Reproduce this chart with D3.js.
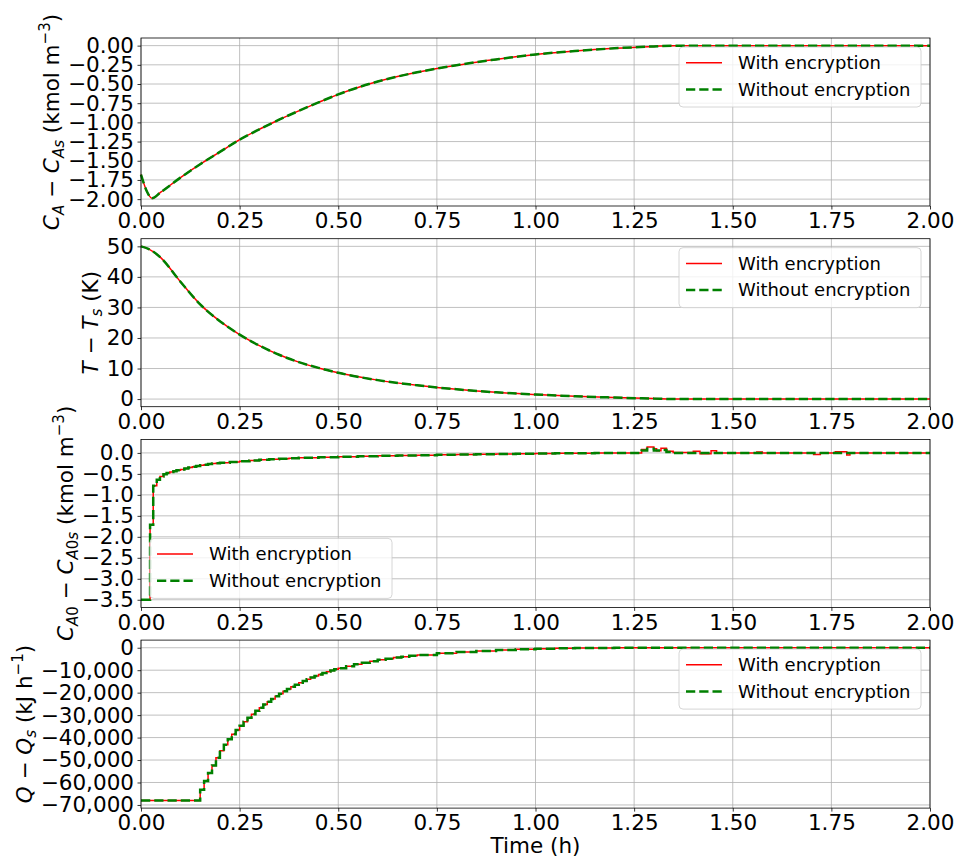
<!DOCTYPE html>
<html>
<head>
<meta charset="utf-8">
<script src="https://cdn.jsdelivr.net/npm/d3@7"></script>
<style>
  body { margin: 0; background: #fff; }
  svg { display: block; font-family: "DejaVu Sans", sans-serif; }
</style>
</head>
<body>
<svg id="chart" width="958" height="859"></svg>
<script>
/***************************************************************
 * DATA
 ***************************************************************/
const seriesNames = ["With encryption", "Without encryption"];
const timeTicks = [0, 0.25, 0.5, 0.75, 1, 1.25, 1.5, 1.75, 2];

// panel 1: C_A - C_As
const caTime = [0, 0.015, 0.028, 0.05, 0.1, 0.15, 0.2, 0.25, 0.3, 0.35, 0.4, 0.45, 0.5, 0.55, 0.6, 0.65, 0.7, 0.75, 0.8, 0.85, 0.9, 0.95, 1.0, 1.1, 1.2, 1.3, 1.35, 2.0];
const caDev = [-1.68, -1.9, -1.99, -1.91, -1.72, -1.545, -1.385, -1.225, -1.09, -0.965, -0.85, -0.74, -0.635, -0.545, -0.468, -0.403, -0.347, -0.298, -0.255, -0.215, -0.18, -0.146, -0.115, -0.07, -0.035, -0.01, 0, 0];
const caTicks = [-2, -1.75, -1.5, -1.25, -1, -0.75, -0.5, -0.25, 0];

// panel 2: T - Ts
const tempTime = [0, 0.02, 0.05, 0.1, 0.15, 0.2, 0.25, 0.3, 0.35, 0.4, 0.45, 0.5, 0.6, 0.7, 0.75, 0.8, 0.9, 1.0, 1.1, 1.2, 1.3, 1.35, 2.0];
const tempDev = [50, 49.1, 46.3, 38.4, 31.0, 25.5, 21.1, 17.5, 14.5, 12.1, 10.2, 8.6, 6.2, 4.5, 3.8, 3.2, 2.2, 1.5, 0.9, 0.5, 0.15, 0, 0];
const tempTicks = [0, 10, 20, 30, 40, 50];

// panel 3: C_A0 - C_A0s (sampled input, drawn as steps)
const feedTime = [0, 0.023, 0.031, 0.040, 0.048, 0.057, 0.065, 0.073, 0.082, 0.090, 0.10, 0.11, 0.12, 0.13, 0.14, 0.15, 0.16, 0.17, 0.18, 0.19, 0.20, 0.225, 0.25, 0.275, 0.30, 0.325, 0.35, 0.375, 0.40, 0.45, 0.50, 0.55, 0.60, 0.65, 0.70, 0.75, 0.80, 0.85, 0.90, 0.95, 1.00, 1.05, 1.10, 1.15, 1.20];
const feedDev = [-3.5, -1.71, -0.78, -0.64, -0.56, -0.51, -0.48, -0.455, -0.435, -0.415, -0.395, -0.372, -0.35, -0.33, -0.31, -0.295, -0.28, -0.267, -0.255, -0.245, -0.235, -0.217, -0.2, -0.182, -0.165, -0.152, -0.14, -0.127, -0.115, -0.102, -0.09, -0.08, -0.07, -0.062, -0.053, -0.045, -0.038, -0.031, -0.025, -0.02, -0.015, -0.011, -0.008, -0.004, 0];
const feedTailTimeWith = [1.269, 1.283, 1.300, 1.307, 1.318, 1.332, 1.349, 1.400, 1.417, 1.434, 1.445, 1.459, 1.561, 1.575, 1.705, 1.722, 1.760, 1.789, 1.797, 2.0];
const feedTailWith = [0.08, 0.14, 0.10, 0.05, 0.11, 0.04, 0.01, 0.04, -0.02, -0.02, 0.05, 0, 0.02, 0, -0.04, 0, 0.03, -0.05, 0, 0];
const feedTailTimeWithout = [1.269, 1.283, 1.300, 1.318, 1.332, 1.349, 2.0];
const feedTailWithout = [0.06, 0.10, 0.06, 0.07, 0.02, 0, 0];
const feedTicks = [-3.5, -3, -2.5, -2, -1.5, -1, -0.5, 0];

// panel 4: Q - Qs (sampled input, drawn as steps)
const heatTime = [0,
  0.15, 0.16, 0.17, 0.18, 0.19, 0.20, 0.21, 0.22, 0.23, 0.24, 0.25, 0.26, 0.27, 0.28, 0.29, 0.30, 0.31, 0.32,
  0.33, 0.34, 0.35, 0.36, 0.37, 0.38, 0.39, 0.40, 0.41, 0.42, 0.43, 0.44, 0.45, 0.46, 0.47, 0.48, 0.49, 0.50,
  0.52, 0.54, 0.56, 0.58, 0.60, 0.62, 0.64, 0.66, 0.68, 0.70,
  0.75, 0.80, 0.85, 0.90, 0.95, 1.00, 1.05, 1.10, 1.20, 1.30, 2.0];
const heatDev = [-68000,
  -63200, -59300, -55800, -52400, -49000, -45900, -43200, -40700, -38500, -36600, -34700, -32900, -31200, -29600, -28100, -26700, -25300, -24000,
  -22800, -21600, -20500, -19400, -18400, -17400, -16500, -15600, -14800, -14000, -13300, -12600, -11900, -11300, -10700, -10100, -9600, -9100,
  -8200, -7400, -6700, -6000, -5400, -4900, -4400, -4000, -3600, -3200,
  -2500, -1900, -1400, -1000, -700, -450, -280, -150, -50, 0, 0];
const heatTicks = [-70000, -60000, -50000, -40000, -30000, -20000, -10000, 0];

/***************************************************************
 * LAYOUT
 ***************************************************************/
const plotLeft = 141, plotRight = 930;
const panelTops = [38, 238.7, 439.4, 640.1];
const panelHeight = 168;
const tickFont = 21.5, legendFont = 18;

const svg = d3.select("#chart");
const x = d3.scaleLinear().domain([0, 2]).range([plotLeft, plotRight]);

const zip = (t, v) => t.map((d, i) => [d, v[i]]);

// matplotlib style autoscale: 5% margin on the data range
function padded(values) {
  const [lo, hi] = d3.extent(values);
  const m = (hi - lo) * 0.05;
  return [lo - m, hi + m];
}

// tiny mathtext: italic, sub and sup pieces
function richText(sel, parts, size) {
  const shift = l => l === 1 ? 0.22 * size : l === -1 ? -0.42 * size : 0;
  let level = 0;
  parts.forEach(p => {
    const lvl = p.sub ? 1 : p.sup ? -1 : 0;
    const ts = sel.append("tspan").text(p.t).attr("dy", shift(lvl) - shift(level));
    if (p.it) ts.attr("font-style", "italic");
    if (lvl) ts.attr("font-size", size * 0.7);
    level = lvl;
  });
}

const panels = [
  {
    withData: zip(caTime, caDev), withoutData: zip(caTime, caDev),
    curve: d3.curveMonotoneX, yTicks: caTicks, yFormat: d3.format(".2f"), legend: "upper right",
    label: [{t: "C", it: 1}, {t: "A", it: 1, sub: 1}, {t: " \u2212 "}, {t: "C", it: 1}, {t: "As", it: 1, sub: 1},
            {t: " (kmol m"}, {t: "\u22123", sup: 1}, {t: ")"}]
  },
  {
    withData: zip(tempTime, tempDev), withoutData: zip(tempTime, tempDev),
    curve: d3.curveMonotoneX, yTicks: tempTicks, yFormat: d3.format("d"), legend: "upper right",
    label: [{t: "T", it: 1}, {t: " \u2212 "}, {t: "T", it: 1}, {t: "s", it: 1, sub: 1}, {t: " (K)"}]
  },
  {
    withData: zip(feedTime, feedDev).concat(zip(feedTailTimeWith, feedTailWith)),
    withoutData: zip(feedTime, feedDev).concat(zip(feedTailTimeWithout, feedTailWithout)),
    curve: d3.curveStepAfter, yTicks: feedTicks, yFormat: d3.format(".1f"), legend: "lower left",
    label: [{t: "C", it: 1}, {t: "A", it: 1, sub: 1}, {t: "0", sub: 1}, {t: " \u2212 "}, {t: "C", it: 1},
            {t: "A", it: 1, sub: 1}, {t: "0", sub: 1}, {t: "s", it: 1, sub: 1},
            {t: " (kmol m"}, {t: "\u22123", sup: 1}, {t: ")"}]
  },
  {
    withData: zip(heatTime, heatDev), withoutData: zip(heatTime, heatDev),
    curve: d3.curveStepAfter, yTicks: heatTicks, yFormat: d3.format(","), legend: "upper right",
    label: [{t: "Q", it: 1}, {t: " \u2212 "}, {t: "Q", it: 1}, {t: "s", it: 1, sub: 1},
            {t: " (kJ h"}, {t: "\u22121", sup: 1}, {t: ")"}]
  }
];

const lineStyles = [
  {stroke: "red", width: 1.5, dash: null},
  {stroke: "green", width: 2.5, dash: "9.25,4"}
];

function styleAxis(a) {
  a.attr("font-family", null).attr("font-size", null);
  a.select(".domain").remove();
  a.selectAll(".tick line").attr("stroke", "#000").attr("stroke-width", 0.8);
  a.selectAll(".tick text").attr("fill", "#000").attr("font-size", tickFont);
}

/***************************************************************
 * DRAW
 ***************************************************************/
panels.forEach((p, i) => {
  const top = panelTops[i], bottom = top + panelHeight;
  const allV = p.withData.concat(p.withoutData).map(d => d[1]);
  const y = d3.scaleLinear().domain(padded(allV)).range([bottom, top]);
  const g = svg.append("g").attr("class", "panel");

  // grid
  g.append("g").selectAll("line").data(timeTicks).join("line")
    .attr("x1", d => x(d)).attr("x2", d => x(d)).attr("y1", top).attr("y2", bottom)
    .attr("stroke", "#b0b0b0").attr("stroke-width", 0.8);
  g.append("g").selectAll("line").data(p.yTicks).join("line")
    .attr("x1", plotLeft).attr("x2", plotRight).attr("y1", d => y(d)).attr("y2", d => y(d))
    .attr("stroke", "#b0b0b0").attr("stroke-width", 0.8);

  // series
  const line = d3.line().x(d => x(d[0])).y(d => y(d[1])).curve(p.curve);
  [p.withData, p.withoutData].forEach((data, k) => {
    const s = lineStyles[k];
    g.append("path").attr("d", line(data)).attr("fill", "none")
      .attr("stroke", s.stroke).attr("stroke-width", s.width)
      .attr("stroke-dasharray", s.dash);
  });

  // frame
  g.append("rect").attr("x", plotLeft).attr("y", top)
    .attr("width", plotRight - plotLeft).attr("height", panelHeight)
    .attr("fill", "none").attr("stroke", "#000").attr("stroke-width", 0.8);

  // axes
  const xAxis = g.append("g").attr("transform", `translate(0,${bottom})`)
    .call(d3.axisBottom(x).tickValues(timeTicks).tickFormat(d3.format(".2f")).tickSize(3.5).tickPadding(3.5));
  styleAxis(xAxis);
  const yAxis = g.append("g").attr("transform", `translate(${plotLeft},0)`)
    .call(d3.axisLeft(y).tickValues(p.yTicks).tickFormat(p.yFormat).tickSize(3.5).tickPadding(3.5));
  styleAxis(yAxis);

  // y label, just left of the tick labels
  const tickLeft = plotLeft + yAxis.node().getBBox().x;
  const lab = g.append("text")
    .attr("transform", `translate(${tickLeft - 9},${(top + bottom) / 2}) rotate(-90)`)
    .attr("text-anchor", "middle").attr("font-size", tickFont).attr("fill", "#000")
    .style("white-space", "pre");
  richText(lab, p.label, tickFont);

  // legend
  const lw = 242, lh = 60;
  const lx = p.legend === "upper right" ? plotRight - 9 - lw : plotLeft + 9;
  const ly = p.legend === "upper right" ? top + 9 : bottom - 9 - lh;
  const lg = g.append("g").attr("transform", `translate(${lx},${ly})`);
  lg.append("rect").attr("width", lw).attr("height", lh).attr("rx", 4)
    .attr("fill", "#fff").attr("fill-opacity", 0.8)
    .attr("stroke", "#cccccc").attr("stroke-width", 0.8);
  seriesNames.forEach((name, k) => {
    const cy = 15.7 + k * 26.7;
    const s = lineStyles[k];
    lg.append("line").attr("x1", 7).attr("x2", 43).attr("y1", cy).attr("y2", cy)
      .attr("stroke", s.stroke).attr("stroke-width", s.width).attr("stroke-dasharray", s.dash);
    lg.append("text").attr("x", 59).attr("y", cy).attr("dy", "0.35em")
      .attr("font-size", legendFont).attr("fill", "#000").text(name);
  });
});

// x label on the bottom panel
svg.append("text")
  .attr("x", (plotLeft + plotRight) / 2).attr("y", 853)
  .attr("text-anchor", "middle").attr("font-size", tickFont).attr("fill", "#000")
  .text("Time (h)");
</script>
</body>
</html>
